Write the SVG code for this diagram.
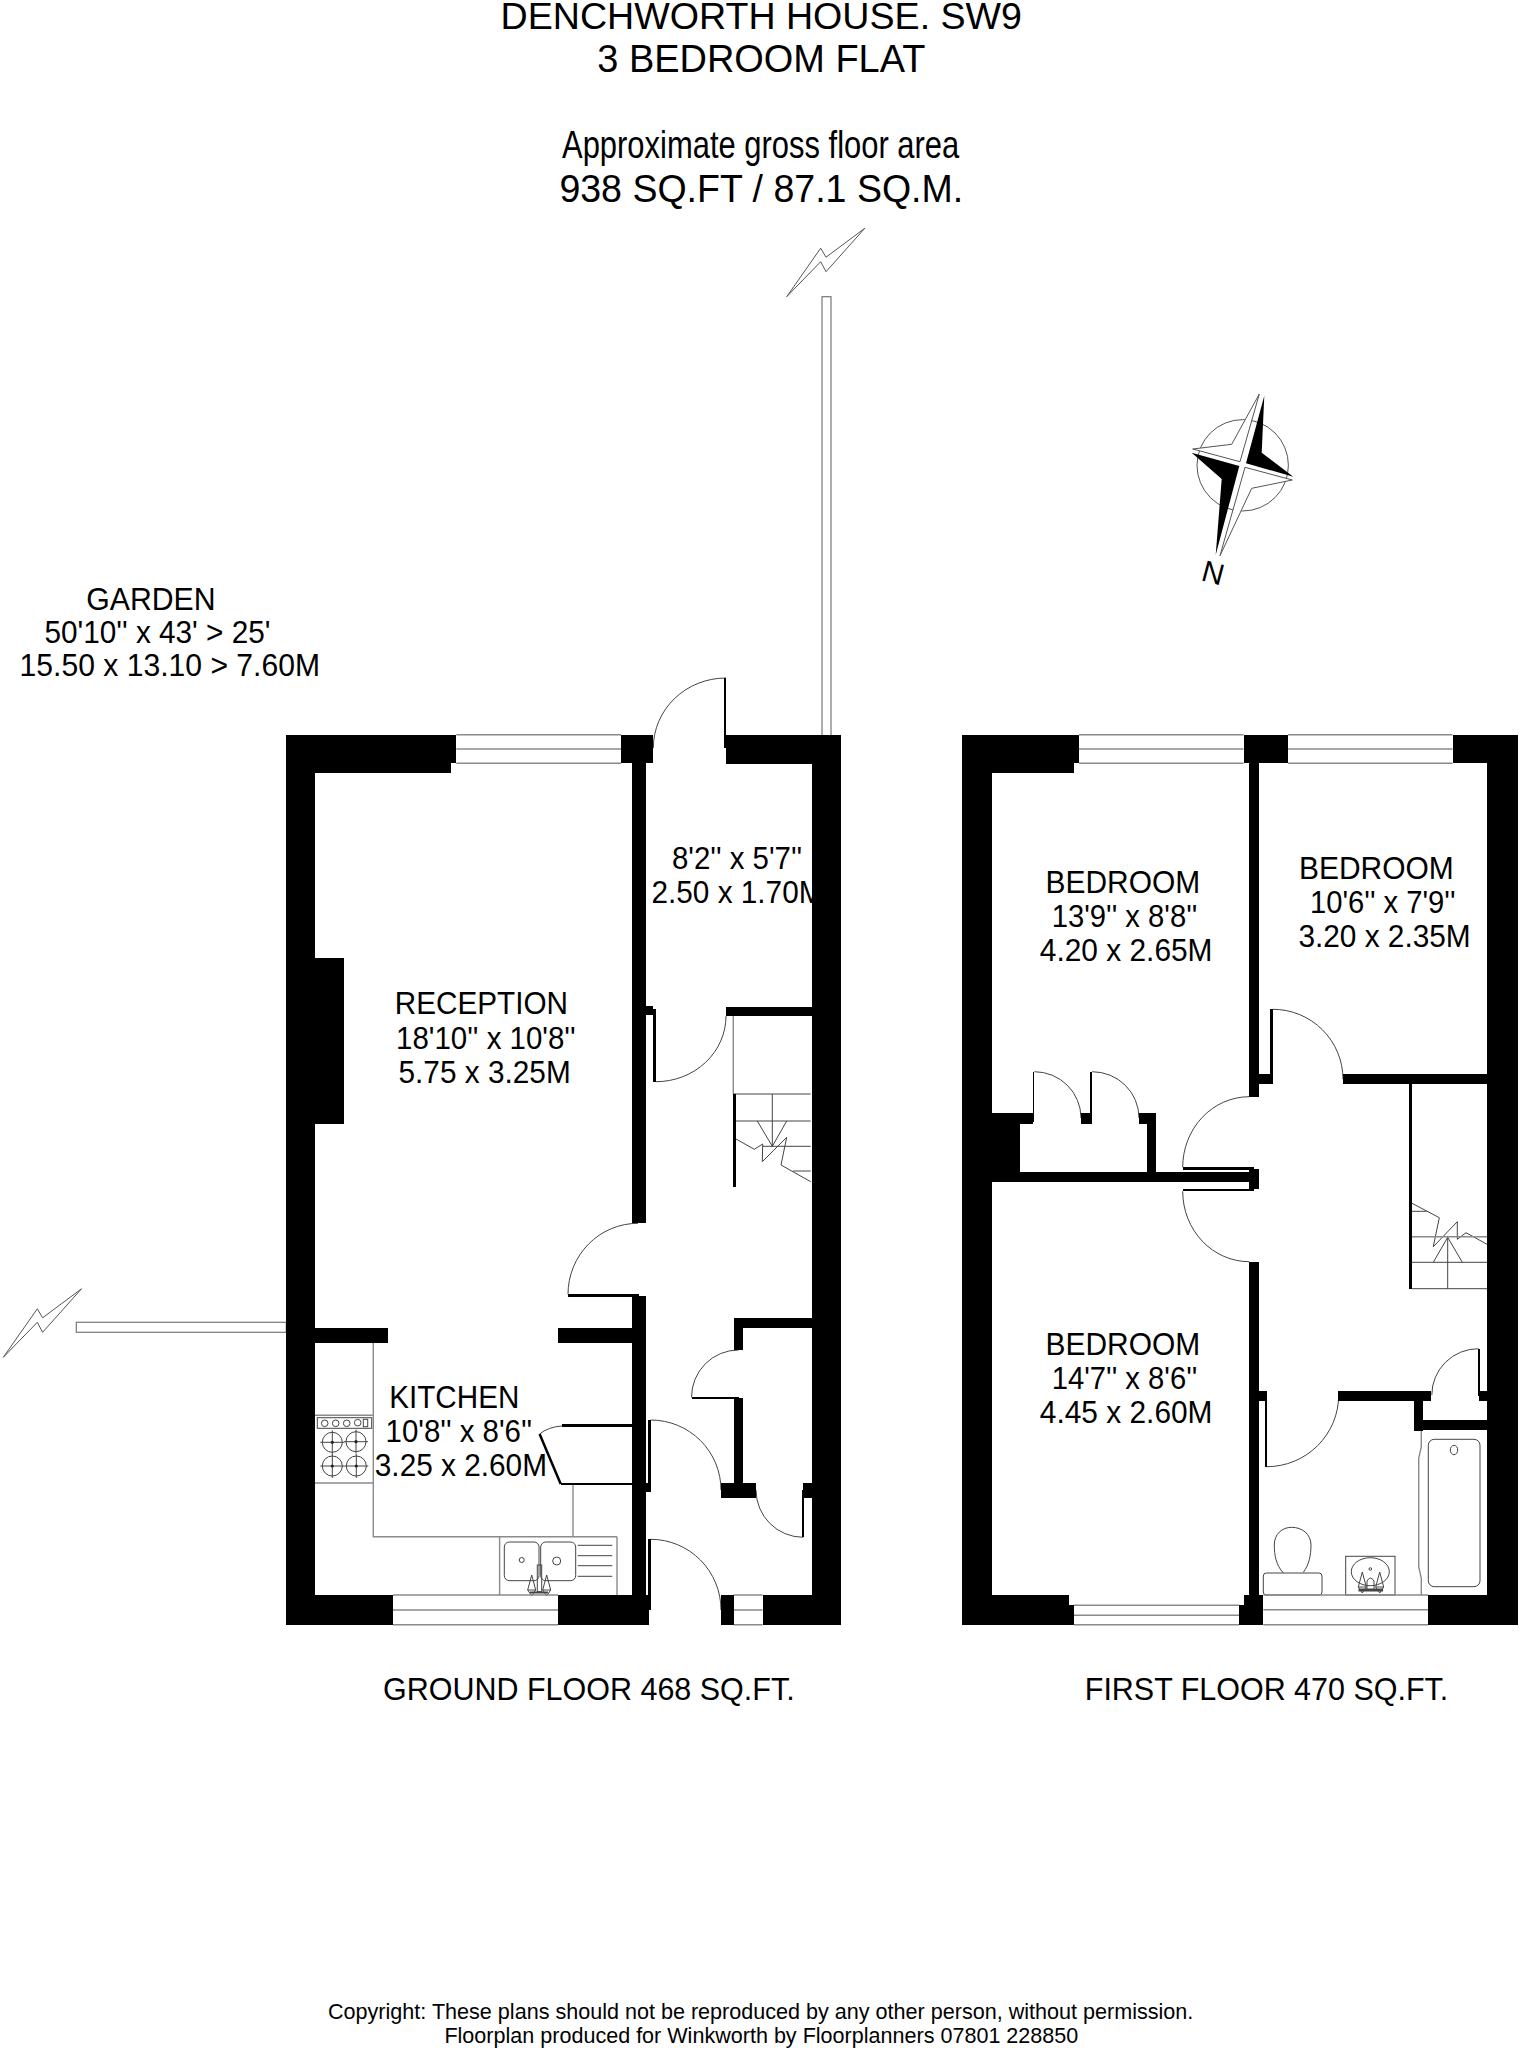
<svg xmlns="http://www.w3.org/2000/svg" width="1520" height="2048" viewBox="0 0 1520 2048">
<style>
text{font-family:"Liberation Sans",Arial,sans-serif;fill:#000}
.r{font-size:30.5px}
.h{font-size:39px}
.s{font-size:22px}
.w{fill:#000;stroke:none;shape-rendering:crispEdges}
.g{fill:none;stroke:#8a8a8a;stroke-width:1.4}
.t{fill:none;stroke:#444;stroke-width:1}
.f{fill:#fff;stroke:#555;stroke-width:1}
</style>
<defs>
<g id="burner"><circle r="10" class="t"/><path d="M-12 0H12M0-12V12" class="t"/><circle r="1.6" fill="#222"/></g>
<g id="tapcone"><path d="M0-15L-4 0L0 0L4 0Z" class="t"/><path d="M-4 0L0 6L4 0" class="t"/></g>
<path id="bolt" d="M0 0L34-48.5L39.3-39.5L78.2-68.5L39.3-25L34-35Z" fill="none" stroke="#555" stroke-width="1"/>
</defs>
<rect width="1520" height="2048" fill="#fff"/>

<g id="titles">
<text x="500.6" y="28.5" font-size="37" textLength="521.4" lengthAdjust="spacingAndGlyphs">DENCHWORTH HOUSE. SW9</text>
<text class="h" x="597.3" y="72" textLength="328" lengthAdjust="spacingAndGlyphs">3 BEDROOM FLAT</text>
<text class="h" x="562" y="157.5" textLength="397.3" lengthAdjust="spacingAndGlyphs">Approximate gross floor area</text>
<text class="h" x="559.4" y="202" textLength="403.8" lengthAdjust="spacingAndGlyphs">938 SQ.FT / 87.1 SQ.M.</text>
</g>

<g id="garden">
<text class="r" x="86.3" y="610.2" textLength="129.3" lengthAdjust="spacingAndGlyphs">GARDEN</text>
<text class="r" x="44.4" y="642.8" textLength="226.1" lengthAdjust="spacingAndGlyphs">50'10'' x 43' &gt; 25'</text>
<text class="r" x="19.6" y="675.5" textLength="300.4" lengthAdjust="spacingAndGlyphs">15.50 x 13.10 &gt; 7.60M</text>
<rect id="fence-north" x="822" y="296.7" width="9" height="440" fill="#fff" stroke="#777" stroke-width="1.2"/>
<rect id="fence-west" x="76.3" y="1322.3" width="210" height="10" fill="#fff" stroke="#777" stroke-width="1.2"/>
<use id="bolt-north" href="#bolt" x="786.7" y="296.7"/>
<use id="bolt-west" href="#bolt" x="3.3" y="1357.3"/>
</g>

<g id="compass">
<circle cx="1242.7" cy="465.3" r="45.7" fill="#fff" stroke="#555" stroke-width="1"/>
<path d="M1259.3 394L1231.7 444.3L1192.7 449L1240 461.7Z" class="f"/>
<path d="M1292.3 480L1251.7 488.3L1220 555.7L1245 467.3Z" class="f"/>
<path d="M1264.3 395.7L1261.7 452.7L1293.3 476.7L1246 463.3Z" fill="#000"/>
<path d="M1191.7 452.7L1221.7 479L1215.7 555L1239.3 466Z" fill="#000"/>
<text transform="translate(1200 580) rotate(15)" font-size="30">N</text>
</g>

<g id="hall-label">
<text class="r" x="671.9" y="868.8" textLength="130.3" lengthAdjust="spacingAndGlyphs">8'2'' x 5'7''</text>
<text class="r" x="651.5" y="903.2" textLength="172" lengthAdjust="spacingAndGlyphs">2.50 x 1.70M</text>
</g>

<g id="ground-floor">
<g id="ground-fixtures">
<path class="g" d="M373.3 1342.7V1536.7H617M573 1485V1536.7M499.6 1536.7V1595M617 1536.7V1595M315 1483H373.3M315 1415.3H373.3"/>
<g id="cooker">
<rect x="317.3" y="1417.7" width="54.4" height="10.6" class="t"/>
<circle cx="324.7" cy="1423.3" r="3.3" class="t"/><circle cx="335.7" cy="1423.3" r="3.3" class="t"/><circle cx="346.7" cy="1423.3" r="3.3" class="t"/><circle cx="357.7" cy="1422.7" r="3.3" class="t"/>
<rect x="363.3" y="1419.3" width="4.4" height="7.4" class="t"/>
<use href="#burner" x="332.3" y="1442.3"/><use href="#burner" x="356" y="1441.7"/><use href="#burner" x="332.3" y="1466"/><use href="#burner" x="356.3" y="1466"/>
</g>
<g id="sink">
<rect x="504.3" y="1542" width="34.7" height="38.7" rx="5" class="t"/>
<rect x="540.7" y="1542" width="35" height="38.7" rx="5" class="t"/>
<circle cx="521.7" cy="1560" r="2.5" class="t"/><circle cx="556.7" cy="1561" r="4" class="t"/>
<path class="t" d="M577.7 1545.3H612.3M577.7 1555.7H612.3M577.7 1565.7H612.3M577.7 1576.3H612.3"/>
<rect x="537.3" y="1565" width="4.4" height="26.7" fill="#fff" class="t"/>
<use href="#tapcone" x="531.7" y="1590"/><use href="#tapcone" x="546.7" y="1590"/>
<path d="M530 1592.5H548" stroke="#444" stroke-width="2"/>
</g>
<g id="ground-stairs">
<path class="g" d="M733.3 1016V1094"/>
<path class="t" d="M733.3 1094H810.7M733.3 1121H810.7M772.3 1094V1146.3M757.3 1121L772.3 1146.3L786.7 1121M762.7 1146.3H810.7M793 1171H810.7M736 1139L754.3 1149.3L762.7 1144L762.3 1161.7L786.7 1137.3L781 1165L810.7 1181.7"/>
<rect class="w" x="733.3" y="1094" width="2.7" height="92.7"/>
</g>
</g>
<g id="ground-doors">
<path class="t" d="M726 678A72.7 70 0 0 0 653.3 748M656 1081.7A70 65.7 0 0 0 726 1016M638 1223.3A70 71 0 0 0 568 1294.3M738.5 1350A47 47.3 0 0 0 691.5 1397.3M650.7 1420A70.3 70 0 0 1 721 1490M650.7 1539.3A70.3 70.7 0 0 1 721 1610M756 1490A47.3 47.3 0 0 0 803.3 1537.3M539.6 1434Q548 1427 561.9 1426"/>
<path d="M539.6 1434L560.7 1484" stroke="#000" stroke-width="2.5" fill="none"/>
</g>
<g id="ground-windows">
<path class="g" d="M456.3 734.7H621M456.3 749H621M456.3 763.3H621"/>
<path class="g" d="M393 1595H558M393 1610H558M393 1624.7H558"/>
<path class="g" d="M733.7 1595H762.6M733.7 1610H762.6M733.7 1624.7H762.6"/>
</g>
<g id="ground-walls" class="w">
<rect x="285.6" y="734.7" width="29.6" height="890.3"/>
<rect x="285.6" y="734.7" width="170.7" height="28.6"/>
<rect x="285.6" y="734.7" width="165.4" height="38.6"/>
<rect x="621" y="734.7" width="32.3" height="28.6"/>
<rect x="631.5" y="763" width="14.5" height="460.3"/>
<rect x="725.6" y="734.7" width="115.1" height="29.3"/>
<rect x="724" y="678" width="2.4" height="70.3"/>
<rect x="811.5" y="734.7" width="29.2" height="890.3"/>
<rect x="285.6" y="958" width="58.8" height="166"/>
<rect x="646" y="1006" width="7.3" height="9"/>
<rect x="653.3" y="1009" width="2.7" height="72.7"/>
<rect x="725.6" y="1006.7" width="85.9" height="9.3"/>
<rect x="568" y="1294.3" width="70.5" height="2.4"/>
<rect x="631.5" y="1296" width="14.5" height="329"/>
<rect x="310" y="1328" width="77.8" height="14.7"/>
<rect x="558" y="1328" width="73.5" height="14.7"/>
<rect x="561.9" y="1424.3" width="69.6" height="2.4"/>
<rect x="560.7" y="1482.7" width="70.8" height="2.6"/>
<rect x="646" y="1483" width="4.7" height="8.7"/>
<rect x="647.8" y="1420" width="2.9" height="71.7"/>
<rect x="646" y="1595" width="4.7" height="15"/>
<rect x="647.8" y="1539.3" width="2.9" height="70"/>
<rect x="285.6" y="1595" width="107.4" height="30"/>
<rect x="558" y="1595" width="90.5" height="30"/>
<rect x="721" y="1595" width="12.7" height="30"/>
<rect x="762.6" y="1595" width="78.1" height="30"/>
<rect x="733.7" y="1318" width="77.8" height="10.3"/>
<rect x="733.7" y="1318" width="9.6" height="32"/>
<rect x="691.5" y="1396.7" width="47" height="2.4"/>
<rect x="733.7" y="1397.7" width="9.6" height="85.6"/>
<rect x="721" y="1483.3" width="35" height="15"/>
<rect x="803.3" y="1483.3" width="8.2" height="15"/>
<rect x="802.2" y="1490" width="2.2" height="47.3"/>
</g>
</g>

<g id="first-floor">
<g id="first-fixtures">
<g id="first-stairs">
<path class="t" d="M1412 1288.7H1487M1412 1262.3H1487M1447.7 1236.7V1288.7M1433.3 1262.3L1447.7 1237.3L1462.3 1262.3M1412 1211.3H1426.7M1412 1203.3L1439.3 1217.7L1433.3 1246.7L1457.3 1221.7V1239.3L1466 1232.7L1487 1244.3"/>
<path class="g" d="M1412 1236.7H1487"/>
<rect class="w" x="1409.3" y="1084" width="2.7" height="204.7"/>
</g>
<g id="bath">
<path class="g" d="M1421.3 1430.3V1446.7L1418.7 1458.3V1566.7L1421.3 1578.3V1595"/>
<rect x="1428.3" y="1439.3" width="51.7" height="147.4" rx="6" class="t"/>
<ellipse cx="1454" cy="1450" rx="3.7" ry="4.7" class="t"/>
</g>
<g id="toilet">
<rect x="1263.3" y="1573" width="58.7" height="22" rx="3" class="t"/>
<path class="t" d="M1283.3 1573C1276 1565 1274.3 1555 1274.3 1545C1274.3 1534 1282 1527.3 1291.7 1527.3C1302 1527.3 1311 1534 1311 1545C1311 1555 1309 1565 1303.3 1572.3"/>
</g>
<g id="basin">
<rect x="1345.7" y="1556.3" width="49.3" height="38.7" class="t"/>
<ellipse cx="1370.3" cy="1571.7" rx="19" ry="14" class="t"/>
<circle cx="1370.3" cy="1569" r="1.3" class="t"/>
<path class="t" d="M1367 1589V1581Q1370.5 1575 1374 1581V1589"/>
<use href="#tapcone" x="1362.3" y="1587"/><use href="#tapcone" x="1379.7" y="1587"/>
<path d="M1358.5 1590H1383" stroke="#444" stroke-width="3"/>
</g>
</g>
<g id="first-doors">
<path class="t" d="M1034.4 1071.7A46.6 46.3 0 0 1 1081 1118M1092.2 1071.7A46.8 46.3 0 0 1 1139 1118M1249.3 1096.7A66.6 70.6 0 0 0 1182.7 1167.3M1182.7 1191.3A66.6 70.4 0 0 0 1249.3 1261.7M1272.9 1009.3A70.1 70 0 0 1 1343 1079.3M1266.7 1466.7A72 71.7 0 0 0 1338.7 1395M1431.8 1395A46.6 46.3 0 0 1 1478.4 1348.7"/>
</g>
<g id="first-windows">
<path class="g" d="M1079 734.7H1243.5M1079 749H1243.5M1079 763.3H1243.5"/>
<path class="g" d="M1288 734.7H1452.5M1288 749H1452.5M1288 763.3H1452.5"/>
<path class="g" d="M1074 1605.3H1239M1074 1615.3H1239M1074 1624.7H1239"/>
<path class="g" d="M1263.3 1595H1428.3M1263.3 1609.7H1428.3M1263.3 1624.7H1428.3"/>
</g>
<g id="first-walls" class="w">
<rect x="961.6" y="734.7" width="29.9" height="890.3"/>
<rect x="961.6" y="734.7" width="117.4" height="28.6"/>
<rect x="961.6" y="734.7" width="112.4" height="38.6"/>
<rect x="1243.5" y="734.7" width="44.5" height="28.6"/>
<rect x="1249.3" y="763" width="9.7" height="333.7"/>
<rect x="1452.5" y="734.7" width="65.5" height="28.6"/>
<rect x="1487" y="734.7" width="31" height="890.3"/>
<rect x="985" y="1113.3" width="48" height="10.7"/>
<rect x="985" y="1113.3" width="35" height="60"/>
<rect x="985" y="1172" width="269.7" height="10.3"/>
<rect x="1146.7" y="1113.3" width="9.5" height="60"/>
<rect x="1139" y="1113.3" width="17.2" height="10.7"/>
<rect x="1081" y="1113.3" width="10.8" height="10.7"/>
<rect x="1032.5" y="1071.7" width="1.9" height="50"/>
<rect x="1090.4" y="1071.7" width="1.8" height="50"/>
<rect x="1249.3" y="1169.3" width="9.7" height="20"/>
<rect x="1182.7" y="1167.3" width="70.9" height="2.4"/>
<rect x="1182.7" y="1189" width="70.9" height="2.3"/>
<rect x="1249.3" y="1261.7" width="9.7" height="343"/>
<rect x="1259" y="1074.3" width="13.9" height="10"/>
<rect x="1270.4" y="1009.3" width="2.5" height="70"/>
<rect x="1343" y="1074.3" width="144" height="10"/>
<rect x="1338.3" y="1390.7" width="92.7" height="10"/>
<rect x="1414" y="1400" width="9.3" height="30.7"/>
<rect x="1414" y="1420" width="73" height="10.3"/>
<rect x="1477.7" y="1348.7" width="2.3" height="47"/>
<rect x="1479" y="1390.7" width="8" height="10.3"/>
<rect x="1259" y="1390.7" width="7.7" height="10"/>
<rect x="1265.3" y="1390.7" width="2" height="76"/>
<rect x="961.6" y="1595" width="107.7" height="30"/>
<rect x="1069" y="1605" width="5" height="20"/>
<rect x="1243.8" y="1595" width="19.5" height="30"/>
<rect x="1239" y="1605.3" width="5" height="19.7"/>
<rect x="1428.3" y="1595" width="89.7" height="30"/>
</g>
</g>

<g id="ground-labels">
<text class="r" x="394.8" y="1014" textLength="173.2" lengthAdjust="spacingAndGlyphs">RECEPTION</text>
<text class="r" x="396" y="1048.8" textLength="179.6" lengthAdjust="spacingAndGlyphs">18'10'' x 10'8''</text>
<text class="r" x="398.5" y="1083.2" textLength="172.2" lengthAdjust="spacingAndGlyphs">5.75 x 3.25M</text>
<text class="r" x="389.3" y="1408" textLength="130" lengthAdjust="spacingAndGlyphs">KITCHEN</text>
<text class="r" x="385.6" y="1441.7" textLength="146.6" lengthAdjust="spacingAndGlyphs">10'8'' x 8'6''</text>
<text class="r" x="374.8" y="1476" textLength="172.2" lengthAdjust="spacingAndGlyphs">3.25 x 2.60M</text>
<text class="r" x="383" y="1700.2" textLength="411.6" lengthAdjust="spacingAndGlyphs">GROUND FLOOR 468 SQ.FT.</text>
</g>
<g id="first-labels">
<text class="r" x="1045.6" y="892.8" textLength="154.6" lengthAdjust="spacingAndGlyphs">BEDROOM</text>
<text class="r" x="1051.8" y="927.2" textLength="145.5" lengthAdjust="spacingAndGlyphs">13'9'' x 8'8''</text>
<text class="r" x="1039.8" y="961.2" textLength="172.7" lengthAdjust="spacingAndGlyphs">4.20 x 2.65M</text>
<text class="r" x="1299" y="878.5" textLength="154.6" lengthAdjust="spacingAndGlyphs">BEDROOM</text>
<text class="r" x="1310" y="913.2" textLength="145.5" lengthAdjust="spacingAndGlyphs">10'6'' x 7'9''</text>
<text class="r" x="1298.4" y="947.2" textLength="172.3" lengthAdjust="spacingAndGlyphs">3.20 x 2.35M</text>
<text class="r" x="1045.6" y="1354.7" textLength="154.6" lengthAdjust="spacingAndGlyphs">BEDROOM</text>
<text class="r" x="1051.8" y="1389.3" textLength="145.5" lengthAdjust="spacingAndGlyphs">14'7'' x 8'6''</text>
<text class="r" x="1039.8" y="1422.7" textLength="172.7" lengthAdjust="spacingAndGlyphs">4.45 x 2.60M</text>
<text class="r" x="1084.8" y="1700.2" textLength="363.4" lengthAdjust="spacingAndGlyphs">FIRST FLOOR 470 SQ.FT.</text>
</g>
<g id="copyright">
<text class="s" x="328" y="2018.8" textLength="865.3" lengthAdjust="spacingAndGlyphs">Copyright: These plans should not be reproduced by any other person, without permission.</text>
<text class="s" x="444.4" y="2042.8" textLength="633.9" lengthAdjust="spacingAndGlyphs">Floorplan produced for Winkworth by Floorplanners 07801 228850</text>
</g>
</svg>
